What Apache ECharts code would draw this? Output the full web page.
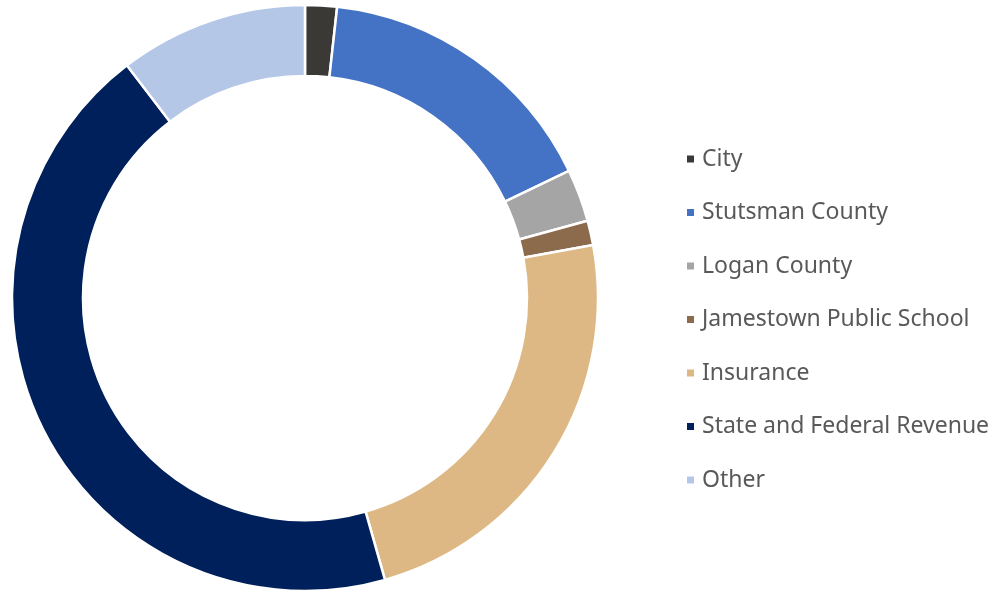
<!DOCTYPE html>
<html lang="en">
<head>
    <meta charset="UTF-8">
    <title>Revenue</title>
    <style>
        html, body { margin: 0; padding: 0; background: #fff; }
        #main { width: 1000px; height: 592px; }
    </style>
</head>
<body>
    <div id="main"></div>
    <script src="https://cdn.jsdelivr.net/npm/echarts@6/dist/echarts.min.js"></script>
    <script>
        // data (percent of total)
        var categories = ['City', 'Stutsman County', 'Logan County', 'Jamestown Public School',
                          'Insurance', 'State and Federal Revenue', 'Other'];
        var values = [1.75, 16.1, 2.9, 1.35, 23.5, 44.0, 10.4];
        var colors = ['#3a3936', '#4472c4', '#a5a5a5', '#8c6b4c', '#ddb884', '#00205b', '#b4c7e7'];

        var chart = echarts.init(document.getElementById('main'));

        var pieData = categories.map(function (name, i) {
            return { name: name, value: values[i], itemStyle: { color: colors[i] } };
        });

        chart.setOption({
            animation: false,
            legend: {
                orient: 'vertical',
                left: 685,
                top: 145,
                padding: 0,
                icon: 'rect',
                itemWidth: 9,
                itemHeight: 9,
                itemGap: 25.5,
                textStyle: {
                    fontFamily: 'Noto Sans',
                    fontSize: 23,
                    lineHeight: 28,
                    color: '#595959',
                    padding: [0, 0, 0, 2]
                },
                data: categories
            },
            series: [{
                type: 'pie',
                center: [305, 298],
                radius: [222, 293],
                startAngle: 90,
                clockwise: true,
                label: { show: false },
                labelLine: { show: false },
                emphasis: { disabled: true },
                itemStyle: { borderColor: '#ffffff', borderWidth: 2.5 },
                data: pieData
            }]
        });
    </script>
</body>
</html>
